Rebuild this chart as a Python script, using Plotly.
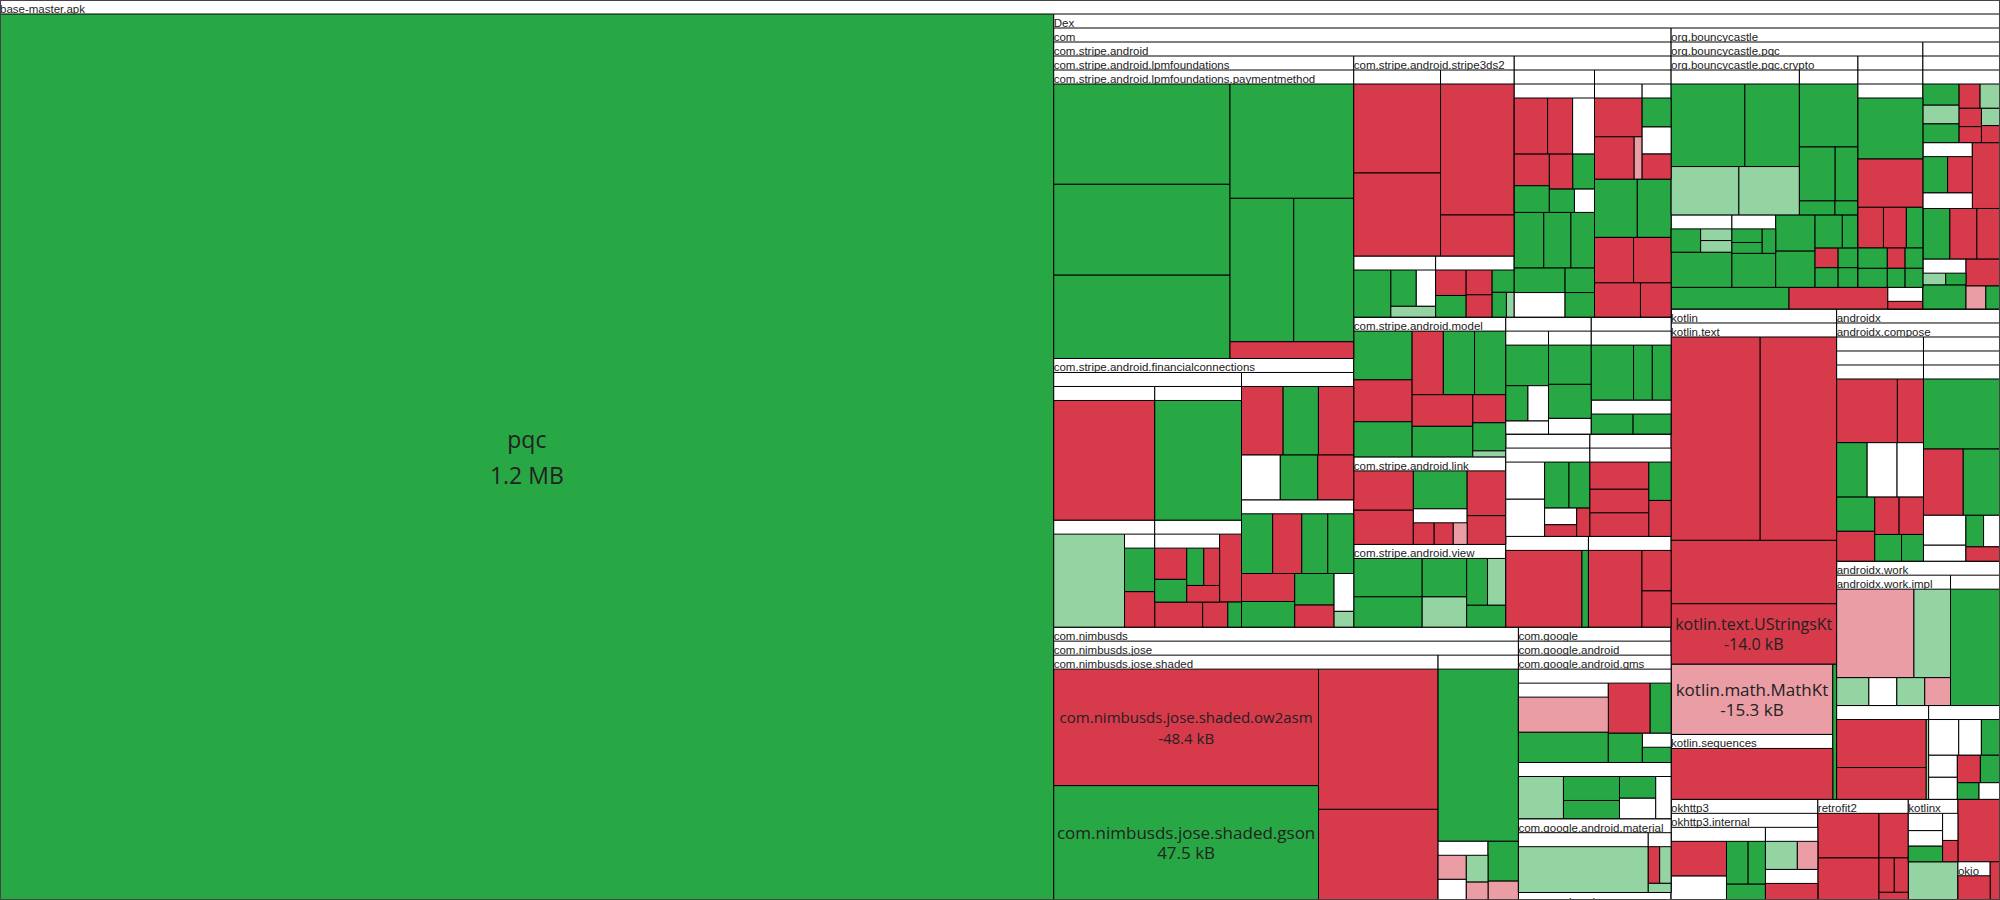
import plotly.graph_objects as go

ROOT = "base-master.apk"

# ---- hierarchy: (child id / short name, size change in kB, status) ----
# status: G = grew, R = shrank, g = grew a little, r = shrank a little, W = unchanged, P = package
root_children = [("pqc", 1200, "G"), ("Dex", 0, "P")]
dex_children = [("com", 0, "P"), ("org.bouncycastle", 0, "P"), ("kotlin", 0, "P"), ("androidx", 0, "P"),
                ("okhttp3", 0, "P"), ("retrofit2", 0, "P"), ("kotlinx", 0, "P"),
                ("x1", 3.43, "R"), ("x2", 2.48, "g"), ("okio", 0, "P"), ("x3", 0.49, "R")]
okio_children = [("a", 1.61, "R")]
com_children = [("com.stripe.android", 0, "P"), ("com.nimbusds", 0, "P"), ("com.google", 0, "P")]

stripe_children = [("com.stripe.android.lpmfoundations", 0, "P"),
                   ("com.stripe.android.financialconnections", 0, "P"),
                   ("com.stripe.android.stripe3ds2", 0, "P"), ("s.u1", 0, "P"),
                   ("com.stripe.android.model", 0, "P"), ("com.stripe.android.link", 0, "P"),
                   ("com.stripe.android.view", 0, "P"),
                   ("s.r1", 0, "P"), ("s.r2", 0, "P"), ("s.r3", 0, "P"), ("s.r4", 0, "P"),
                   ("s.r5", 0, "P"), ("s.r6", 0, "P")]
lpm_children = [("com.stripe.android.lpmfoundations.paymentmethod", 0, "P")]
paymentmethod_children = [("a", 26.5, "G"), ("b", 24.0, "G"), ("c", 22.0, "G"), ("d", 21.2, "G"),
                          ("e", 13.7, "G"), ("f", 12.9, "G"), ("g", 3.1, "R")]
fc_children = [("fc.p1", 0, "P"), ("fc.p2", 0, "P"), ("fc.p3", 0, "P")]
fc_p1 = [("fc.p1a", 0, "P"), ("fc.p1b", 0, "P"), ("fc.p1c", 0, "P"), ("fc.p1d", 0, "P")]
fc_p1a = [("a", 20.5, "R")]
fc_p1b = [("a", 17.6, "G")]
fc_p1c = [("a", 11.5, "g"), ("fc.p1c1", 0, "P")]
fc_p1c1 = [("a", 2.7, "G"), ("b", 2.2, "R")]
fc_p1d = [("a", 2.6, "R"), ("b", 2.1, "R"), ("c", 1.1, "R"), ("d", 0.6, "G"), ("fc.p1d1", 0, "P")]
fc_p1d1 = [("a", 2.2, "R"), ("b", 1.6, "G"), ("c", 1.3, "R"), ("d", 1.4, "G"), ("e", 1.2, "R")]
fc_p2 = [("a", 3.9, "G"), ("b", 3.9, "R"), ("c", 4.6, "R"), ("d", 2.7, "G"), ("e", 2.6, "R"), ("f", 2.8, "W")]
fc_p3 = [("a", 3.0, "G"), ("b", 2.2, "G"), ("c", 2.5, "G"), ("d", 2.0, "G"), ("e", 0.5, "g"),
         ("f", 2.8, "R"), ("g", 2.4, "R"), ("h", 2.5, "G"), ("i", 1.4, "R"), ("j", 1.2, "W")]
s3ds2_children = [("t.s1", 0, "P"), ("t.s2", 0, "P"), ("t.s3", 0, "P"), ("t.s4", 0, "P")]
t_s1 = [("a", 12.0, "R"), ("b", 11.2, "R")]
t_s2 = [("a", 15.0, "R"), ("b", 4.7, "R")]
t_s3 = [("a", 1.45, "R"), ("b", 1.08, "R"), ("c", 1.2, "R"), ("d", 1.23, "G"), ("e", 0.92, "G"),
        ("f", 0.36, "g"), ("g", 0.66, "G")]
t_s4 = [("a", 3.26, "G"), ("b", 0.9, "g"), ("c", 1.72, "G"), ("d", 1.31, "W")]
s_u1 = [("s.u1a", 0, "P"), ("s.u1b", 0, "P")]
s_u1a = [("a", 2.5, "G"), ("b", 2.3, "G"), ("c", 1.9, "G"), ("d", 1.1, "G"), ("e", 2.0, "G"),
         ("f", 1.1, "G"), ("g", 1.9, "W"), ("s.u1a2", 0, "P")]
s_u1a2 = [("a", 1.9, "R"), ("b", 1.6, "G"), ("c", 1.4, "R"), ("d", 1.3, "G"), ("e", 0.8, "W"),
          ("f", 3.2, "R"), ("g", 1.0, "G"), ("h", 2.4, "R"), ("i", 2.1, "W")]
s_u1b = [("a", 3.8, "G"), ("b", 2.6, "R"), ("c", 2.4, "R"), ("d", 1.6, "R"), ("s.u1b1", 0, "P"),
         ("e", 3.0, "G"), ("f", 2.7, "R"), ("s.u1b2", 0, "P")]
s_u1b1 = [("a", 3.0, "R"), ("b", 0.6, "r"), ("c", 3.3, "R")]
s_u1b2 = [("a", 1.5, "G"), ("b", 1.4, "W"), ("c", 1.3, "R")]
model_children = [("a", 4.3, "G"), ("b", 3.7, "R"), ("c", 3.0, "R"), ("d", 3.1, "G"), ("e", 2.9, "R"),
                  ("f", 3.0, "G"), ("g", 3.0, "G"), ("h", 2.8, "G"), ("i", 1.4, "R"), ("j", 1.4, "G"),
                  ("k", 0.3, "g")]
link_children = [("a", 3.8, "R"), ("b", 3.3, "R"), ("c", 3.3, "G"), ("d", 2.8, "R"), ("e", 1.8, "R"),
                 ("link.s", 0, "P")]
link_s = [("a", 1.2, "R"), ("b", 0.8, "r"), ("c", 1.1, "R")]
view_children = [("a", 4.3, "G"), ("b", 3.4, "G"), ("c", 2.8, "G"), ("d", 2.2, "g"), ("e", 1.4, "g"),
                 ("f", 1.4, "G"), ("g", 1.6, "G")]
s_r1 = [("s.r1a", 0, "P"), ("s.r1b", 0, "P")]
s_r1a = [("a", 4.5, "G"), ("b", 2.0, "G"), ("c", 2.0, "G")]
s_r1b = [("a", 2.2, "G"), ("b", 2.0, "G")]
s_r2 = [("s.r2a", 0, "P")]
s_r2a = [("a", 2.6, "R"), ("b", 1.6, "G"), ("c", 3.0, "R"), ("d", 1.5, "R"), ("e", 2.6, "R")]
s_r3 = [("a", 6.6, "R"), ("b", 1.9, "R"), ("c", 1.7, "R")]
s_r4 = [("a", 9.4, "R"), ("b", 0.8, "G")]
s_r5 = [("s.r5a", 0, "P")]
s_r5a = [("a", 1.8, "G"), ("b", 0.7, "R"), ("c", 0.7, "R"), ("d", 1.0, "W"), ("e", 2.7, "W"),
         ("f", 2.7, "W"), ("g", 2.1, "G")]
s_r6 = [("s.r6a", 0, "P"), ("s.r6b", 0, "P")]
s_r6a = [("a", 3.0, "G"), ("b", 2.6, "G"), ("c", 1.2, "W")]
s_r6b = [("a", 1.4, "G"), ("b", 1.0, "W"), ("c", 3.1, "G"), ("d", 1.3, "W")]

nimbus_children = [("com.nimbusds.jose", 0, "P")]
jose_children = [("com.nimbusds.jose.shaded", 0, "P"), ("n.j2", 0, "P")]
shaded_children = [("com.nimbusds.jose.shaded.ow2asm", 48.4, "R"), ("com.nimbusds.jose.shaded.gson", 47.5, "G"),
                   ("a", 26.3, "R"), ("b", 17.0, "R")]
n_j2 = [("a", 21.7, "G"), ("b", 1.9, "G"), ("n.j2s", 0, "P"), ("c", 0.9, "r")]
n_j2s = [("a", 1.2, "W"), ("b", 1.4, "r"), ("c", 1.2, "g"), ("d", 0.8, "r")]

google_children = [("com.google.android", 0, "P"), ("com.google.zxing", 0, "P")]
zxing_children = [("a", 1.6, "W")]
gandroid_children = [("com.google.android.gms", 0, "P"), ("com.google.android.material", 0, "P")]
gms_children = [("g.g1", 0, "P"), ("g.g2", 0, "P")]
g_g1 = [("a", 5.2, "G"), ("g.g1s", 0, "P"), ("b", 4.0, "R"), ("c", 1.9, "G"), ("g.g1c", 0, "P"), ("d", 2.0, "G")]
g_g1s = [("a", 1.6, "G")]
g_g1c = [("a", 8.4, "r")]
g_g2 = [("a", 4.1, "g"), ("b", 1.6, "W"), ("c", 1.7, "G"), ("d", 2.2, "G"), ("e", 1.4, "W"), ("f", 2.9, "G")]
material_children = [("g.m1", 0, "P"), ("g.m2", 0, "P")]
g_m1 = [("a", 14.2, "g")]
g_m2 = [("a", 0.5, "g"), ("b", 1.0, "R"), ("c", 1.0, "g")]

bouncy_children = [("org.bouncycastle.pqc", 0, "P"), ("b.b2", 0, "P")]
bpqc_children = [("org.bouncycastle.pqc.crypto", 0, "P"), ("b.q2", 0, "P"), ("a", 3.7, "G"), ("b", 3.1, "R"),
                 ("b.pk", 0, "P")]
b_pk = [("a", 1.1, "R")]
crypto_children = [("b.c1", 0, "P"), ("b.c2", 0, "P"), ("a", 3.3, "G"), ("b.x1", 0, "P"), ("b", 2.2, "G"),
                   ("c", 2.3, "G"), ("d", 2.2, "G"), ("b.x3", 0, "P"), ("e", 1.4, "G"), ("f", 0.8, "G"),
                   ("g", 0.7, "R"), ("h", 0.7, "G"), ("i", 0.6, "G"), ("j", 0.6, "G")]
b_x1 = [("a", 1.0, "G"), ("b", 0.8, "G"), ("c", 0.8, "G")]
b_x3 = [("a", 0.9, "g"), ("b", 0.9, "g"), ("c", 1.7, "G")]
b_c1 = [("a", 10.4, "G"), ("b", 7.7, "G"), ("c", 5.6, "g"), ("d", 5.0, "g")]
b_c2 = [("a", 6.3, "G"), ("b", 3.3, "G"), ("c", 2.1, "G"), ("d", 0.85, "G"), ("e", 0.55, "G")]
b_q2 = [("b.q2a", 0, "P")]
b_q2a = [("b.q2b", 0, "P")]
b_q2b = [("a", 5.56, "R"), ("b", 7.02, "G"), ("c", 1.84, "R"), ("d", 1.65, "R"), ("e", 1.19, "G"),
         ("f", 1.06, "G"), ("g", 0.64, "R"), ("h", 0.64, "G"), ("i", 0.99, "G"), ("j", 0.60, "G"),
         ("k", 0.60, "G")]
b_b2 = [("b.b2a", 0, "P")]
b_b2a = [("a", 2.8, "R"), ("b", 2.1, "G"), ("c", 1.8, "R"), ("d", 1.4, "R"), ("e", 2.1, "R"), ("f", 1.6, "G"),
         ("g", 0.5, "G"), ("h", 0.7, "r"), ("b.b2b", 0, "P"), ("b.w1", 0, "P"), ("b.w2", 0, "P")]
b_b2b = [("a", 1.29, "g"), ("b", 0.92, "g"), ("c", 0.60, "R"), ("d", 1.46, "G"), ("e", 0.78, "R"),
         ("f", 0.68, "R"), ("g", 1.29, "G"), ("h", 0.97, "R"), ("i", 0.61, "g")]
b_w1 = [("a", 1.5, "W"), ("b", 1.75, "G"), ("c", 1.75, "R")]
b_w2 = [("a", 0.9, "g"), ("b", 0.8, "G")]

kotlin_children = [("kotlin.text", 0, "P"), ("kotlin.math.MathKt", 15.3, "r"), ("kotlin.sequences", 0, "P"),
                   ("k.s", 0.7, "G")]
ktext_children = [("a", 25.4, "R"), ("b", 21.8, "R"), ("c", 14.7, "R"), ("kotlin.text.UStringsKt", 14.0, "R")]
kseq_children = [("a", 14.1, "R")]

androidx_children = [("androidx.compose", 0, "P"), ("androidx.work", 0, "P"), ("ax.xa", 0, "P"), ("ax.xb", 0, "P")]
compose_children = [("ax.ca", 0, "P"), ("ax.cb", 0, "P")]
ax_ca = [("ax.ca1", 0, "P")]
ax_ca1 = [("ax.ca2", 0, "P")]
ax_ca2 = [("a", 6.8, "R"), ("b", 1.6, "R"), ("c", 1.26, "G"), ("d", 1.03, "G"), ("e", 2.53, "W"), ("f", 2.86, "W"),
          ("g", 2.0, "R"), ("h", 1.6, "R"), ("i", 2.29, "G"), ("j", 2.92, "R"), ("k", 2.92, "G")]
ax_cb = [("ax.cb1", 0, "P")]
ax_cb1 = [("ax.cb2", 0, "P")]
ax_cb2 = [("a", 9.42, "G"), ("b", 2.23, "W"), ("c", 4.63, "R"), ("d", 1.19, "W"), ("e", 0.98, "G"),
          ("f", 0.86, "R"), ("g", 0.91, "W"), ("h", 4.28, "G")]
work_children = [("androidx.work.impl", 0, "P"), ("ax.wb", 0, "P")]
impl_children = [("a", 11.4, "r"), ("b", 1.3, "W"), ("c", 5.4, "g"), ("d", 1.5, "g"), ("e", 1.3, "g"), ("f", 1.2, "r")]
ax_wb = [("a", 9.6, "G")]
ax_xa = [("a", 4.5, "R"), ("b", 0.3, "g"), ("c", 6.8, "R")]
ax_xb = [("a", 1.0, "W"), ("b", 1.0, "W"), ("c", 0.55, "W"), ("d", 1.0, "R"), ("e", 0.85, "G"),
         ("f", 0.57, "G"), ("g", 1.7, "W"), ("h", 1.28, "W"), ("i", 1.05, "G")]

okhttp_children = [("okhttp3.internal", 0, "P")]
internal_children = [("h.i1", 0, "P"), ("h.i2", 0, "P"), ("h.i3", 0, "P")]
h_i1 = [("a", 1.66, "G"), ("b", 2.08, "G"), ("c", 1.38, "G"), ("d", 2.97, "W"), ("e", 4.31, "R")]
h_i2 = [("a", 2.43, "g"), ("b", 1.56, "r")]
h_i3 = [("a", 2.9, "R")]
retrofit_children = [("a", 4.14, "R"), ("b", 1.98, "R"), ("c", 3.9, "R"), ("d", 0.8, "R"), ("e", 0.73, "R"),
                     ("f", 0.34, "R")]
kotlinx_children = [("a", 1.0, "W"), ("b", 0.9, "W"), ("c", 0.9, "G"), ("d", 0.7, "W"), ("e", 0.55, "R")]

TREE = [
    (ROOT, root_children), ("Dex", dex_children), ("okio", okio_children), ("com", com_children),
    ("com.stripe.android", stripe_children),
    ("com.stripe.android.lpmfoundations", lpm_children),
    ("com.stripe.android.lpmfoundations.paymentmethod", paymentmethod_children),
    ("com.stripe.android.financialconnections", fc_children),
    ("fc.p1", fc_p1), ("fc.p1a", fc_p1a), ("fc.p1b", fc_p1b), ("fc.p1c", fc_p1c), ("fc.p1c1", fc_p1c1),
    ("fc.p1d", fc_p1d), ("fc.p1d1", fc_p1d1), ("fc.p2", fc_p2), ("fc.p3", fc_p3),
    ("com.stripe.android.stripe3ds2", s3ds2_children),
    ("t.s1", t_s1), ("t.s2", t_s2), ("t.s3", t_s3), ("t.s4", t_s4),
    ("s.u1", s_u1), ("s.u1a", s_u1a), ("s.u1a2", s_u1a2), ("s.u1b", s_u1b), ("s.u1b1", s_u1b1), ("s.u1b2", s_u1b2),
    ("com.stripe.android.model", model_children), ("com.stripe.android.link", link_children), ("link.s", link_s),
    ("com.stripe.android.view", view_children),
    ("s.r1", s_r1), ("s.r1a", s_r1a), ("s.r1b", s_r1b), ("s.r2", s_r2), ("s.r2a", s_r2a), ("s.r3", s_r3),
    ("s.r4", s_r4), ("s.r5", s_r5), ("s.r5a", s_r5a), ("s.r6", s_r6), ("s.r6a", s_r6a), ("s.r6b", s_r6b),
    ("com.nimbusds", nimbus_children), ("com.nimbusds.jose", jose_children),
    ("com.nimbusds.jose.shaded", shaded_children), ("n.j2", n_j2), ("n.j2s", n_j2s),
    ("com.google", google_children), ("com.google.zxing", zxing_children),
    ("com.google.android", gandroid_children), ("com.google.android.gms", gms_children),
    ("g.g1", g_g1), ("g.g1s", g_g1s), ("g.g1c", g_g1c), ("g.g2", g_g2),
    ("com.google.android.material", material_children), ("g.m1", g_m1), ("g.m2", g_m2),
    ("org.bouncycastle", bouncy_children), ("org.bouncycastle.pqc", bpqc_children), ("b.pk", b_pk),
    ("org.bouncycastle.pqc.crypto", crypto_children), ("b.x1", b_x1), ("b.x3", b_x3), ("b.c1", b_c1),
    ("b.c2", b_c2), ("b.q2", b_q2), ("b.q2a", b_q2a), ("b.q2b", b_q2b),
    ("b.b2", b_b2), ("b.b2a", b_b2a), ("b.b2b", b_b2b), ("b.w1", b_w1), ("b.w2", b_w2),
    ("kotlin", kotlin_children), ("kotlin.text", ktext_children), ("kotlin.sequences", kseq_children),
    ("androidx", androidx_children), ("androidx.compose", compose_children),
    ("ax.ca", ax_ca), ("ax.ca1", ax_ca1), ("ax.ca2", ax_ca2), ("ax.cb", ax_cb), ("ax.cb1", ax_cb1), ("ax.cb2", ax_cb2),
    ("androidx.work", work_children), ("androidx.work.impl", impl_children), ("ax.wb", ax_wb),
    ("ax.xa", ax_xa), ("ax.xb", ax_xb),
    ("okhttp3", okhttp_children), ("okhttp3.internal", internal_children),
    ("h.i1", h_i1), ("h.i2", h_i2), ("h.i3", h_i3),
    ("retrofit2", retrofit_children), ("kotlinx", kotlinx_children),
]

SHOWN_HEADERS = {
    ROOT, "Dex", "com", "com.stripe.android", "com.stripe.android.lpmfoundations",
    "com.stripe.android.lpmfoundations.paymentmethod", "com.stripe.android.stripe3ds2",
    "com.stripe.android.financialconnections", "com.stripe.android.model", "com.stripe.android.link",
    "com.stripe.android.view", "com.nimbusds", "com.nimbusds.jose", "com.nimbusds.jose.shaded",
    "com.google", "com.google.android", "com.google.android.gms", "com.google.android.material",
    "com.google.zxing", "org.bouncycastle", "org.bouncycastle.pqc", "org.bouncycastle.pqc.crypto",
    "kotlin", "kotlin.text", "kotlin.sequences", "androidx", "androidx.compose", "androidx.work",
    "androidx.work.impl", "okhttp3", "okhttp3.internal", "retrofit2", "kotlinx", "okio",
}

# labelled leaves: (displayed size, font px)
BIG_LEAVES = {
    "pqc": ("1.2 MB", 23),
    "com.nimbusds.jose.shaded.ow2asm": ("-48.4 kB", 15),
    "com.nimbusds.jose.shaded.gson": ("47.5 kB", 17),
    "kotlin.text.UStringsKt": ("-14.0 kB", 16),
    "kotlin.math.MathKt": ("-15.3 kB", 17),
}

COLOR = {"G": "#28a745", "R": "#d73a4a", "g": "#94d3a2", "r": "#eb9da6", "W": "#ffffff", "P": "#ffffff"}
BLANK = ""

ids, parents, values, colors = [ROOT], [""], [0], ["#ffffff"]
header_labels, leaf_text = [ROOT], [BLANK]
for pkg, children in TREE:
    for name, kb, st in children:
        cid = name if (st == "P" or name in BIG_LEAVES) else pkg + "/" + name
        ids.append(cid)
        parents.append(pkg)
        values.append(kb)
        colors.append(COLOR[st])
        header_labels.append(name if (st == "P" and name in SHOWN_HEADERS) else BLANK)
        if name in BIG_LEAVES:
            size_txt, fs = BIG_LEAVES[name]
            first = f"<span style='font-size:{fs}px'>{name}</span>"
            second = f"<sub><sub><sub><span style='font-size:{fs}px'>{size_txt}</span></sub></sub></sub>"
            sep = "<br><br>" if fs >= 20 else "<br>"
            leaf_text.append(first + sep + second)
        else:
            leaf_text.append(BLANK)

HEADER_FONT = 11.5
common = dict(
    ids=ids, parents=parents, values=values, branchvalues="remainder", sort=True,
    tiling=dict(packing="squarify", squarifyratio=1.618034, pad=0),
    pathbar=dict(visible=False), domain=dict(x=[0, 1], y=[0, 1]),
    texttemplate="%{text}",
)
PAD = dict(t=14, l=0, r=0, b=0)

trace_cells = go.Treemap(
    **common, labels=header_labels,
    marker=dict(colors=colors, line=dict(color="#000000", width=1), pad=PAD, depthfade=False),
    text=[BLANK] * len(ids), textposition="top left",
    textfont=dict(family="Liberation Sans", size=HEADER_FONT, color="#222222"),
    hoverinfo="skip",
)
trace_labels = go.Treemap(
    **common, labels=[BLANK] * len(ids),
    marker=dict(colors=["rgba(0,0,0,0)"] * len(ids), line=dict(width=0), pad=PAD, depthfade=False),
    text=leaf_text, textposition="middle center",
    textfont=dict(family="Open Sans", size=HEADER_FONT, color="#222222"),
    hoverinfo="skip",
)

fig = go.Figure([trace_cells, trace_labels])
fig.update_layout(
    width=2000, height=900, margin=dict(l=0, r=0, t=0, b=0),
    paper_bgcolor="#ffffff", uniformtext=dict(mode="show", minsize=HEADER_FONT),
    font=dict(family="Open Sans"),
)
fig.write_html("out.html", config={"displayModeBar": False},
               post_script="document.body.style.margin='0';")
